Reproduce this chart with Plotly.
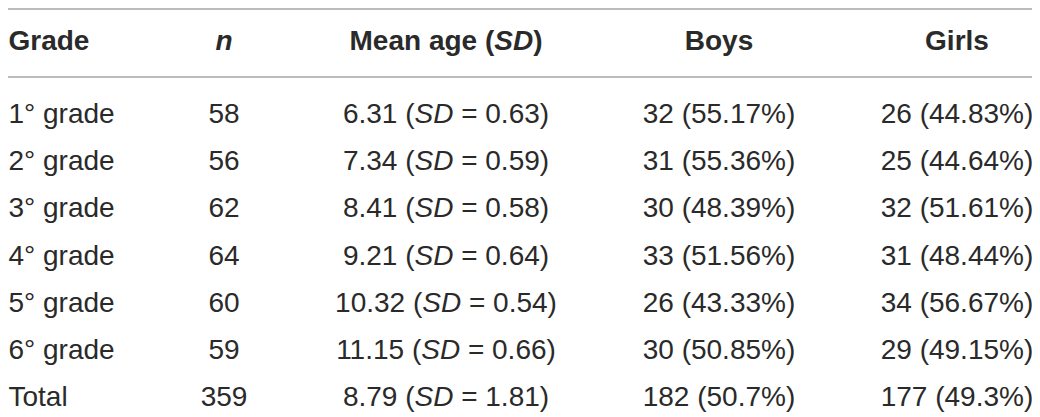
import plotly.graph_objects as go

# ---- data ----
grades = ["1° grade", "2° grade", "3° grade", "4° grade", "5° grade", "6° grade", "Total"]
n_vals = [58, 56, 62, 64, 60, 59, 359]
mean_age = [6.31, 7.34, 8.41, 9.21, 10.32, 11.15, 8.79]
sd_age = [0.63, 0.59, 0.58, 0.64, 0.54, 0.66, 1.81]
boys = [32, 31, 30, 33, 26, 30, 182]
boys_pct = [55.17, 55.36, 48.39, 51.56, 43.33, 50.85, 50.7]
girls = [26, 25, 32, 31, 34, 29, 177]
girls_pct = [44.83, 44.64, 51.61, 48.44, 56.67, 49.15, 49.3]
headers = ["<b>Grade</b>", "<b><i>n</i></b>", "<b>Mean age (<i>SD</i>)</b>", "<b>Boys</b>", "<b>Girls</b>"]

# ---- layout (style) ----
W, H = 1040, 417
OFF = 8  # default page body margin
col_x = [8.5, 224, 446, 719, 957]
col_pos = ["middle right", "middle center", "middle center", "middle center", "middle center"]
row_step = 47.17
first_row_px = 116
header_px = 43
line_px = [9, 77]
FONT = "Liberation Sans, Arial, Helvetica, sans-serif"
TXT = "#2a2a2a"
FS = 28

def px_to_row(p):
    return (p - first_row_px) / row_step

col_text = [
    grades,
    [str(v) for v in n_vals],
    [f"{m:.2f} (<i>SD</i> = {s:.2f})" for m, s in zip(mean_age, sd_age)],
    [f"{b} ({p:g}%)" for b, p in zip(boys, boys_pct)],
    [f"{g} ({p:g}%)" for g, p in zip(girls, girls_pct)],
]

rows = list(range(len(grades)))
header_y = px_to_row(header_px)

fig = go.Figure()
for ci, texts in enumerate(col_text):
    fig.add_trace(go.Scatter(
        x=[col_x[ci]] * (len(texts) + 1),
        y=[header_y] + rows,
        text=[headers[ci]] + texts,
        mode="text",
        textposition=col_pos[ci],
        textfont=dict(family=FONT, size=FS, color=TXT),
        hoverinfo="skip",
        showlegend=False,
        cliponaxis=False,
    ))

for lp in line_px:
    fig.add_shape(type="line", xref="x", yref="y",
                  x0=OFF, x1=1033, y0=px_to_row(lp), y1=px_to_row(lp),
                  line=dict(color="#a6a6a6", width=1.5))

fig.update_layout(
    width=W - OFF, height=H - OFF,
    margin=dict(l=0, r=0, t=0, b=0),
    paper_bgcolor="white", plot_bgcolor="white",
    xaxis=dict(range=[OFF, W], visible=False, fixedrange=True),
    yaxis=dict(range=[px_to_row(H), px_to_row(OFF)], visible=False, fixedrange=True),
)

fig.write_html("out.html")
